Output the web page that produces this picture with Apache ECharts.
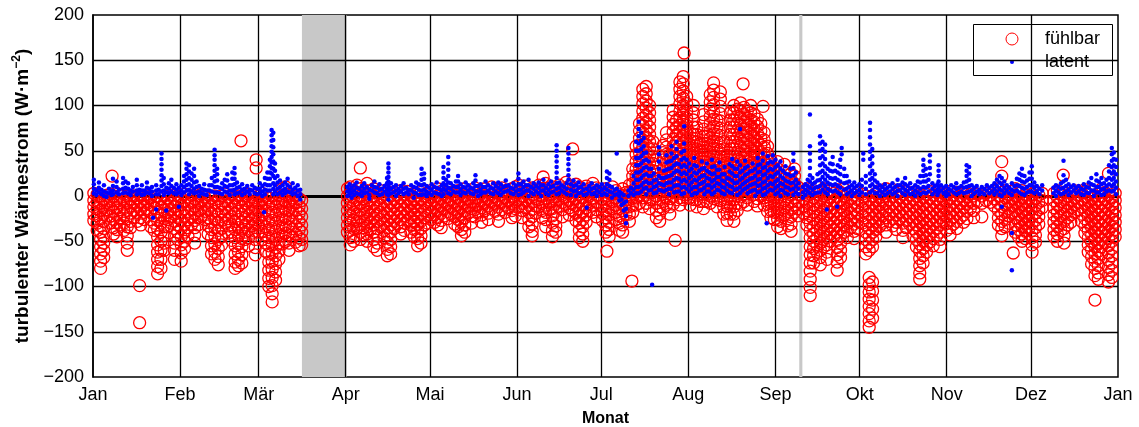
<!DOCTYPE html>
<html>
<head>
<meta charset="utf-8">
<script src="https://cdn.jsdelivr.net/npm/echarts@6/dist/echarts.min.js"></script>
<style>
html, body { margin: 0; padding: 0; background: #fff; }
#chart { width: 1139px; height: 427px; }
</style>
</head>
<body>
<div id="chart"></div>
<script>
// Month ticks (day of year at which each month starts)
const monthNames = ['Jan', 'Feb', 'Mär', 'Apr', 'Mai', 'Jun', 'Jul', 'Aug', 'Sep', 'Okt', 'Nov', 'Dez', 'Jan'];
const monthStartDays = [0, 31, 59, 90, 120, 151, 181, 212, 243, 273, 304, 334, 365];
const yTicks = [-200, -150, -100, -50, 0, 50, 100, 150, 200];
// Periods without measurements [fromDay, toDay]
const dataGaps = [[74.4, 90.3], [251.5, 252.6]];

// Sensible heat flux (W m-2). Each row: [day of year, value, value, ...]
const fuehlbarJan = [
  [0.3, 3, -5, -12, -20, -27], [1.5, 2, -6, -14, -22, -30, -38],
  [2.7, 0, -8, -16, -25, -33, -40, -48, -56, -64, -72, -80],
  [3.8, -4, -12, -20, -28, -36, -45, -52, -60, -68], [5.0, 1, -7, -15, -22],
  [6.2, 2, -6, -14, -22, -30], [6.8, 22], [7.3, 0, -9, -17, -26, -35, -42],
  [8.5, 3, -5, -13, -21, -29, -37, -45], [9.7, 1, -7, -15, -24, -32],
  [11.0, 2, -6, -14, -22, -30, -38], [12.2, 0, -8, -16, -25, -34, -44, -52, -60],
  [13.4, -3, -11, -19, -28, -35], [14.6, 0, -8, -16, -24], [15.8, -2, -10, -18, -28],
  [16.6, -99, -140], [17.0, 0, -7, -15, -24, -32], [18.2, -3, -10, -18, -26],
  [19.4, 0, -8, -16], [20.6, -2, -10, -18, -26, -34], [21.8, -5, -13, -22, -30, -38],
  [23.0, 0, -9, -18, -27, -36, -45, -54, -62, -70, -78, -86],
  [24.2, -3, -12, -21, -30, -40, -50, -60, -70, -80],
  [25.4, 0, -8, -16, -25, -34, -44, -52, -60], [26.6, -2, -10, -18, -26, -34],
  [27.8, 1, -7, -15, -23, -30], [29.0, -4, -12, -20, -28, -36, -44, -52, -60, -70]
];
const fuehlbarFeb = [
  [30.2, 0, -8, -16, -24, -32, -40, -48], [31.4, -2, -10, -18, -27, -36, -45, -54, -63, -72],
  [32.6, 2, -6, -14, -22, -31, -40, -50, -58], [33.8, -1, -9, -17, -26, -35, -44],
  [35.0, 1, -7, -15, -24, -32], [36.2, -3, -11, -19, -27, -35, -43, -52],
  [37.4, 0, -8, -16, -24, -32], [38.6, 2, -6, -14, -22], [39.8, -1, -9, -17, -26],
  [41.0, 1, -7, -15, -24, -33, -42], [42.2, -2, -10, -19, -28, -37, -46, -55, -64],
  [43.4, 0, -8, -17, -26, -35, -44, -53, -62, -70],
  [44.6, -3, -11, -20, -29, -38, -48, -58, -67, -76],
  [45.8, 0, -9, -18, -27, -36, -45, -54], [47.0, 2, -6, -14, -22, -30],
  [48.2, -1, -9, -17, -25, -33, -41], [49.4, 1, -7, -15, -23, -32, -40, -49],
  [50.6, -2, -10, -19, -28, -37, -46, -55, -64, -73, -80],
  [51.8, 0, -8, -17, -26, -35, -44, -53, -62, -70, -77], [52.7, 61],
  [53.0, -3, -11, -20, -29, -38, -47, -56, -65, -74],
  [54.2, 0, -8, -16, -24, -32, -40, -48], [55.4, 2, -6, -14, -22, -30, -38, -46, -55],
  [56.6, -1, -9, -17, -25, -33, -41], [57.8, 1, -7, -15, -23, -31, -39, -48, -57, -65],
  [58.1, 40, 31]
];
const fuehlbarMaer = [
  [59.0, 0, -8, -16, -24, -32, -40], [60.2, 3, -5, -13, -21, -30, -39, -48],
  [61.4, 0, -8, -16, -25, -34, -43, -52, -61],
  [62.6, -2, -10, -19, -28, -37, -46, -55, -64, -73, -82, -91, -100],
  [63.8, 0, -9, -18, -27, -36, -45, -54, -63, -72, -81, -90, -99, -108, -117],
  [65.0, -3, -12, -21, -30, -39, -48, -57, -66, -75, -84, -93],
  [66.2, 1, -7, -16, -25, -34, -43, -52, -61, -70],
  [67.4, 8, 0, -8, -17, -26, -35, -44, -53], [68.6, 10, 2, -6, -14, -23, -32, -41, -50],
  [69.8, 0, -8, -16, -25, -34, -43, -52, -60], [71.0, -2, -10, -18, -27, -36, -45],
  [72.2, 0, -8, -16, -24, -33, -42, -51], [73.4, -3, -11, -19, -28, -37, -46, -55],
  [74.3, -5, -14, -23, -32, -40, -48, -54]
];
const fuehlbarApr = [
  [90.6, 8, 0, -8, -16, -24, -32, -40], [91.6, 10, 2, -6, -14, -22, -30, -38, -46, -54],
  [92.8, 6, -2, -10, -18, -27, -36, -45, -50], [94.0, 12, 4, -4, -12, -20, -28, -36],
  [95.2, 31, 8, 0, -8, -16, -24, -32, -40, -48], [96.4, 5, -3, -11, -19, -27, -35, -43],
  [97.6, 14, 6, -2, -10, -18, -26, -34, -42, -50], [98.8, 3, -5, -13, -21, -29, -37],
  [100.0, 8, 0, -8, -16, -24, -32, -40, -48, -56],
  [101.2, 4, -4, -12, -20, -28, -36, -44, -52, -60], [102.4, 6, -2, -10, -18, -26, -34],
  [103.6, 2, -6, -14, -22, -30, -38, -46],
  [104.8, 5, -3, -11, -19, -27, -35, -43, -51, -59, -66],
  [106.0, 0, -8, -16, -24, -32, -40, -48, -56, -64], [107.2, 4, -4, -12, -20, -28, -36],
  [108.4, 1, -7, -15, -23, -31], [109.6, 6, -2, -10, -18, -26, -34, -42],
  [110.8, 2, -6, -14, -22, -30, -38], [112.0, 5, -3, -11, -19, -27],
  [113.2, 0, -8, -16, -24, -32, -40], [114.4, 3, -5, -13, -21, -29, -37, -45],
  [115.6, 1, -7, -15, -23, -31, -39, -47, -55], [116.8, 4, -4, -12, -20, -28, -36, -44, -52],
  [118.0, 0, -8, -16, -24, -32], [119.2, 2, -6, -14, -22, -30]
];
const fuehlbarMai = [
  [120.4, 6, -2, -10, -18, -26], [121.6, 3, -5, -13, -21, -29],
  [122.8, 8, 0, -8, -16, -24, -32], [124.0, 5, -3, -11, -19, -27, -35],
  [125.2, 2, -6, -14, -22], [126.4, 7, -1, -9, -17, -25], [127.6, 4, -4, -12, -20],
  [128.8, 1, -7, -15, -23, -31], [130.0, 6, -2, -10, -18, -26, -34],
  [131.2, 3, -5, -13, -21, -29, -37, -44], [132.4, 8, 0, -8, -16, -24, -32, -40],
  [133.6, 5, -3, -11, -19], [134.8, 2, -6, -14, -22, -30], [136.0, 9, 1, -7, -15, -23],
  [137.2, 6, -2, -10, -18], [138.4, 3, -5, -13, -21, -29], [139.6, 8, 0, -8, -16],
  [140.8, 5, -3, -11, -19, -26], [142.0, 10, 2, -6, -14], [143.2, 7, -1, -9, -17],
  [144.4, 4, -4, -12, -20, -28], [145.6, 9, 1, -7, -15], [146.8, 6, -2, -10, -18],
  [148.0, 3, -5, -13], [149.2, 8, 0, -8, -16, -24]
];
const fuehlbarJun = [
  [150.4, 10, 2, -6, -14, -22], [151.6, 12, 4, -4, -12], [152.8, 8, 0, -8, -16, -24],
  [154.0, 11, 3, -5, -13], [155.2, 6, -2, -10, -18, -26, -34],
  [156.4, 9, 1, -7, -15, -23, -31, -39, -44], [157.6, 5, -3, -11, -19],
  [158.8, 12, 4, -4, -12], [160.0, 8, 0, -8, -16, -24], [160.3, 21],
  [161.2, 14, 6, -2, -10, -18, -26, -34], [162.4, 9, 1, -7, -15],
  [163.6, 10, 2, -6, -14, -22, -30, -38, -45], [164.8, 7, -1, -9, -17, -25, -33, -40],
  [166.0, 12, 4, -4, -12], [167.2, 9, 1, -7, -15, -23], [168.4, 15, 7, -1, -9],
  [169.6, 11, 3, -5, -13, -21], [170.8, 52, 8, 0, -8, -16], [172.0, 13, 5, -3, -11, -19, -27],
  [173.2, 10, 2, -6, -14, -22, -30, -38, -46], [174.4, 6, -2, -10, -18, -26, -34, -42, -50],
  [175.6, 11, 3, -5, -13, -21, -29], [176.8, 8, 0, -8, -16], [178.0, 14, 6, -2, -10, -18],
  [179.2, 9, 1, -7, -15, -23]
];
const fuehlbarJul = [
  [181.4, 5, -3, -11, -19, -27], [182.6, 8, 0, -8, -16, -24, -32, -40], [183.0, -61],
  [183.8, 3, -5, -13, -21, -29, -37, -45], [185.0, 10, 2, -6, -14],
  [186.2, 6, -2, -10, -18, -26], [187.4, 2, -6, -14, -22, -30, -38],
  [188.6, 8, 0, -8, -16, -24, -32, -40], [189.8, 4, -4, -12, -20],
  [191.0, 12, 4, -4, -12, -20, -28], [191.9, -94], [192.2, 30, 22, 14, 6, -2, -10, -18],
  [193.4, 55, 46, 38, 30, 22, 14, 6, -2, -10],
  [194.6, 80, 72, 64, 56, 48, 40, 32, 24, 16, 8, 0, -8],
  [195.8, 118, 110, 102, 94, 86, 78, 70, 62, 54, 46, 38, 30, 22, 14, 6, -2, -12],
  [197.0, 121, 113, 105, 97, 89, 81, 73, 65, 57, 49, 41, 33, 25, 17, 9, 1, -8],
  [198.2, 100, 92, 84, 76, 68, 60, 52, 44, 36, 28, 20, 12, 4, -4, -14],
  [199.4, 60, 52, 44, 36, 28, 20, 12, 4, -4], [200.6, 40, 32, 24, 16, 8, 0, -8, -16, -24],
  [201.8, 20, 12, 4, -4, -12, -20, -28], [203.0, 56, 48, 40, 30, 20, 10, 2, -6, -14],
  [204.2, 70, 62, 54, 46, 38, 30, 22, 14, 6, -2, -10],
  [205.4, 45, 37, 29, 21, 13, 5, -3, -12, -20],
  [206.6, 95, 87, 79, 71, 63, 55, 47, 39, 31, 23, 15, 7, -1, -9], [207.3, -49],
  [207.8, 84, 76, 68, 60, 52, 44, 36, 28, 20, 12, 4, -4],
  [209.0, 126, 118, 110, 102, 94, 86, 78, 70, 62, 54, 46, 38, 30, 22, 14, 6, -2, -10],
  [210.2, 132, 124, 116, 108, 100, 92, 84, 76, 68, 60, 52, 44, 36, 28, 20, 12, 4, -4],
  [210.5, 158],
  [211.4, 110, 102, 94, 86, 78, 70, 62, 54, 46, 38, 30, 22, 14, 6, -2]
];
const fuehlbarAug = [
  [212.6, 70, 62, 54, 46, 38, 30, 22, 14, 6, -2, -10],
  [213.8, 100, 92, 84, 76, 68, 60, 52, 44, 36, 28, 20, 12, 4, -4],
  [215.0, 76, 68, 60, 52, 44, 36, 28, 20, 12, 4, -4, -12],
  [216.2, 58, 50, 42, 34, 26, 18, 10, 2, -6],
  [217.4, 90, 82, 74, 66, 58, 50, 42, 34, 26, 18, 10, 2, -6, -14],
  [218.6, 66, 58, 50, 42, 34, 26, 18, 10, 2, -6],
  [219.8, 112, 104, 96, 88, 80, 72, 64, 56, 48, 40, 32, 24, 16, 8, 0, -8],
  [221.0, 125, 117, 109, 101, 93, 85, 77, 69, 61, 53, 45, 37, 29, 21, 13, 5, -3],
  [222.2, 84, 76, 68, 60, 52, 44, 36, 28, 20, 12, 4, -4, -12],
  [223.4, 115, 107, 99, 91, 83, 75, 67, 59, 51, 43, 35, 27, 19, 11, 3, -5],
  [224.6, 60, 52, 44, 36, 28, 20, 12, 4, -4, -12, -20],
  [225.8, 45, 37, 29, 21, 13, 5, -3, -11, -19, -27],
  [227.0, 92, 84, 76, 68, 60, 52, 44, 36, 28, 20, 12, 4, -4, -12, -20],
  [228.2, 100, 92, 84, 76, 68, 60, 52, 44, 36, 28, 20, 12, 4, -4, -12, -20, -28],
  [229.4, 96, 88, 80, 72, 64, 56, 48, 40, 32, 24, 16, 8, 0, -8, -16],
  [230.6, 103, 95, 87, 79, 71, 63, 55, 47, 39, 31, 23, 15, 7, -1, -9], [231.5, 124],
  [231.8, 98, 90, 82, 74, 66, 58, 50, 42, 34, 26, 18, 10, 2, -6],
  [233.0, 94, 86, 78, 70, 62, 54, 46, 38, 30, 22, 14, 6, -2, -10],
  [234.2, 100, 92, 84, 76, 68, 60, 52, 44, 36, 28, 20, 12, 4],
  [235.4, 90, 82, 74, 66, 58, 50, 42, 34, 26, 18, 10, 2, -6],
  [236.6, 85, 77, 69, 61, 53, 45, 37, 29, 21, 13, 5, -3, -11],
  [237.8, 80, 72, 64, 56, 48, 40, 32, 24, 16, 8, 0], [238.6, 99],
  [239.0, 70, 62, 54, 46, 38, 30, 22, 14, 6, -2, -10],
  [240.2, 55, 47, 39, 31, 23, 15, 7, -1, -9, -17],
  [241.4, 40, 32, 24, 16, 8, 0, -8, -16, -24]
];
const fuehlbarSep = [
  [242.6, 30, 22, 14, 6, -2, -10, -18, -26], [243.8, 38, 30, 22, 14, 6, -2, -10, -18, -26, -34],
  [245.0, 20, 12, 4, -4, -12, -20, -28, -36], [246.2, 35, 27, 19, 11, 3, -5, -13, -21],
  [247.4, 15, 7, -1, -9, -17, -25, -33], [248.6, 25, 17, 9, 1, -7, -15, -23, -31, -39],
  [249.8, 30, 22, 14, 6, -2, -10, -18], [251.0, 10, 2, -6, -14, -22],
  [253.0, 5, -3, -11, -19], [254.2, 8, 0, -8, -16, -24, -32],
  [255.4, 2, -6, -14, -22, -30, -38, -46, -56, -65, -74, -83, -92, -101, -110],
  [256.6, 6, -2, -10, -18, -26, -34, -42, -50, -58, -66, -74],
  [257.8, 10, 2, -6, -14, -22, -30, -38, -46, -54, -62],
  [259.0, 4, -4, -12, -20, -28, -36, -44, -52, -60, -68, -76],
  [260.2, 8, 0, -8, -16, -24, -32, -40, -48, -56],
  [261.4, 2, -6, -14, -22, -30, -38, -46, -54, -62, -70],
  [262.6, 6, -2, -10, -18, -26, -34, -42, -50], [263.8, 3, -5, -13, -21, -29, -37, -45],
  [265.0, 7, -1, -9, -17, -25, -33, -41, -49, -57, -65, -73, -82],
  [266.2, 4, -4, -12, -20, -28, -36, -44, -52, -60, -68],
  [267.4, 8, 0, -8, -16, -24, -32, -40], [268.6, 2, -6, -14, -22, -30, -38, -46],
  [269.8, 5, -3, -11, -19, -27, -35], [271.0, 1, -7, -15, -23, -31, -39, -47],
  [272.2, 4, -4, -12, -20, -28, -36]
];
const fuehlbarOkt = [
  [274.0, 2, -6, -14, -22, -30], [275.2, 0, -8, -16, -24, -32, -40, -48, -56, -64],
  [276.4, -4, -12, -20, -28, -36, -44, -52, -60, -90, -98, -106, -114, -122, -130, -138, -145],
  [277.6, 0, -8, -16, -24, -32, -40, -48, -56, -95, -105, -115, -125, -135],
  [278.8, 3, -5, -13, -21, -29, -37, -45], [280.0, 6, -2, -10, -18, -26, -34],
  [281.2, 2, -6, -14, -22, -30], [282.4, 8, 0, -8, -16, -24, -32, -40],
  [283.6, 4, -4, -12, -20, -28], [284.8, 7, -1, -9, -17, -25, -33],
  [286.0, 3, -5, -13, -21, -29, -37], [287.2, 6, -2, -10, -18, -26],
  [288.4, 2, -6, -14, -22, -30, -38, -46], [289.6, 5, -3, -11, -19, -27, -35],
  [290.8, 1, -7, -15, -23, -31], [292.0, 4, -4, -12, -20, -28, -36, -44],
  [293.2, 0, -8, -16, -24, -32, -40, -48, -56],
  [294.4, 3, -5, -13, -21, -29, -37, -45, -53, -61, -69, -77, -85, -92],
  [295.6, -2, -10, -18, -26, -34, -42, -50, -58, -66, -74],
  [296.8, 2, -6, -14, -22, -30, -38, -46, -54, -62], [298.0, 5, -3, -11, -19, -27, -35, -43, -51],
  [299.2, 1, -7, -15, -23, -31, -39, -47, -55], [300.4, 4, -4, -12, -20, -28, -36, -44],
  [301.6, 0, -8, -16, -24, -32, -40, -48, -56], [302.8, 3, -5, -13, -21, -29]
];
const fuehlbarNov = [
  [304.0, 2, -6, -14, -22, -30, -38], [305.2, 5, -3, -11, -19, -27, -35, -43],
  [306.4, 1, -7, -15, -23, -31], [307.6, 4, -4, -12, -20, -28, -36],
  [308.8, 0, -8, -16, -24], [310.0, 3, -5, -13, -21, -29], [311.2, -1, -9, -17, -25],
  [312.4, 2, -6, -14], [313.6, 0, -8, -16, -24], [315.0, 2, -6], [316.5, 0, -8, -23],
  [318.0, 3, -5], [319.5, 1, -7], [321.0, 5, -3, -11], [322.4, 8, 0, -8, -16, -24, -32],
  [323.6, 38, 22, 4, -4, -12, -20, -28, -36, -44], [324.8, 6, -2, -10, -18, -26, -34],
  [326.0, 2, -6, -14, -22, -30], [327.2, 5, -3, -11, -19], [327.7, -63],
  [328.4, 8, 0, -8, -16, -24, -32, -40], [329.6, 3, -5, -13, -21, -29, -37, -45],
  [330.8, 6, -2, -10, -18, -26, -34, -42, -50], [332.0, 1, -7, -15, -23, -31, -39, -47],
  [333.2, 4, -4, -12, -20, -28, -36]
];
const fuehlbarDez = [
  [334.4, 2, -6, -14, -22, -30, -38, -46, -54, -62],
  [335.6, 5, -3, -11, -19, -27, -35, -43, -51], [336.8, 1, -7, -15, -23, -31],
  [338.0, 3, -5, -13], [342.2, 3, -5, -13, -21, -29, -37, -45],
  [343.4, 6, -2, -10, -18, -26, -34, -42, -50], [344.6, 2, -6, -14, -22, -30, -38],
  [345.5, 23], [345.8, 4, -4, -12, -20, -28, -36, -44, -52], [347.0, 0, -8, -16, -24, -32],
  [348.2, 3, -5, -13, -21, -29], [349.4, 6, -2, -10, -18], [350.6, 1, -7, -15],
  [352.0, 4, -4, -12, -20, -28], [353.2, 7, -1, -9, -17, -25, -33, -41],
  [354.4, 2, -6, -14, -22, -30, -38, -46, -54, -62],
  [355.6, 5, -3, -11, -19, -27, -35, -43, -51, -59, -67, -75],
  [356.8, 0, -8, -16, -24, -32, -40, -48, -56, -64, -72, -80, -88, -115],
  [358.0, 3, -5, -13, -21, -29, -37, -45, -53, -61, -69, -77, -85, -92],
  [359.2, 8, 0, -8, -16, -24, -32, -40, -48, -56, -64],
  [360.4, 4, -4, -12, -20, -28, -36, -44, -52],
  [361.6, 25, 1, -7, -15, -23, -31, -39, -47, -55, -63, -71, -79, -87, -95],
  [362.8, 6, -2, -10, -18, -26, -34, -42, -50, -58, -66, -74, -82, -90],
  [364.0, 3, -5, -13, -21, -29, -37, -45]
];

// Latent heat flux (W m-2). Each row: [day of year, value, value, ...]
const latentJan = [
  [0.3, 18, 13, 8, 3], [1.2, 6, 1], [2.1, 15, 9, 4], [3.0, 7, 2], [3.9, 12, 5, 0],
  [4.8, 4, -1], [5.7, 8, 3], [6.6, 5, 1], [7.1, 19, 11, 6, 2], [8.4, 16, 10, 4],
  [9.3, 7, 2], [10.7, 20, 14, 8, 3], [11.6, 16, 9, 4], [12.5, 14, 8, 3], [13.4, 6, 1],
  [14.2, 10, 5], [15.6, 18, 12, 6, 2], [16.5, 7, 3], [17.4, 12, 6, 1], [18.3, 6, 2],
  [19.2, 15, 9, 4], [20.1, 8, 3], [21.0, 10, 5, 0], [21.4, -24], [22.5, 12, 6, 2, -15],
  [23.4, 7, 2], [24.4, 47, 41, 35, 29, 23, 17, 11, 5], [25.2, 20, 13, 6, 1],
  [26.1, 9, 4, -16], [27.0, 14, 8, 3], [27.9, 18, 11, 5], [28.8, 9, 3], [29.7, 13, 7, 2]
];
const latentFeb = [
  [30.6, 9, 4, -12], [31.5, 12, 6, 1], [32.4, 22, 16, 10, 4], [33.3, 36, 30, 24, 18, 12, 6],
  [34.2, 34, 27, 20, 13, 7, 2], [35.1, 25, 18, 11, 5], [36.0, 30, 22, 15, 8, 3],
  [36.9, 16, 10, 4], [37.8, 11, 5, 0], [38.7, 8, 3], [39.6, 13, 7, 2], [40.5, 6, 1],
  [41.4, 12, 6], [42.3, 20, 12, 5], [43.3, 51, 45, 40, 34, 28, 22, 16, 10, 4],
  [44.2, 30, 24, 17, 10, 4], [45.1, 9, 3], [46.0, 14, 8, 2], [46.9, 18, 11, 5],
  [47.8, 24, 17, 10, 4], [48.7, 12, 6, 1], [49.6, 26, 19, 12, 6], [50.4, 31, 25, 19, 13, 7, 2],
  [51.3, 15, 9, 3], [52.2, 10, 4], [53.1, 13, 7, 1], [54.0, 8, 3], [54.9, 11, 5],
  [55.8, 7, 2], [56.7, 12, 6], [57.6, 9, 3]
];
const latentMaer = [
  [58.5, 8, 2], [59.4, 14, 8, 3], [60.3, 11, 5, 0], [60.9, -18], [61.2, 20, 13, 7, 2],
  [62.1, 26, 19, 12, 6], [63.0, 40, 33, 26, 19, 12, 6], [63.6, 73, 67, 61, 55, 49, 43, 37, 31, 25],
  [64.2, 70, 62, 54, 46, 38, 30, 22, 14, 8, 2], [64.8, 36, 28, 20, 12, 5],
  [65.7, 22, 15, 8, 2], [66.6, 17, 10, 4], [67.5, 12, 6, 1], [68.4, 15, 8, 3],
  [69.3, 19, 12, 5], [70.2, 10, 4], [71.1, 14, 7, 2], [72.0, 9, 3], [72.9, 12, 6, 0],
  [73.8, 7, 2, -4]
];
const latentApr = [
  [90.6, 10, 5, 0], [91.4, 13, 7, 2], [92.1, 9, 4, -2], [93.0, 12, 6, 1], [93.9, 15, 9, 3],
  [94.8, 8, 2], [95.7, 11, 5, 0], [96.6, 14, 8, 3], [97.5, 10, 4], [98.4, 7, 1, -3],
  [99.3, 12, 6], [100.2, 16, 10, 4], [101.1, 9, 3], [102.0, 13, 7, 1], [102.9, 8, 2],
  [103.8, 11, 5], [104.7, 20, 14, 8, 2], [105.2, 36, 31, 26, 21, 16, 11, 6, 1, -4],
  [106.1, 14, 8, 3], [107.0, 10, 4], [107.9, 12, 6, 0], [108.8, 8, 3], [109.7, 11, 5],
  [110.6, 14, 8, 2], [111.5, 9, 4], [112.4, 7, 2], [113.3, 12, 6], [114.2, 10, 4, -2],
  [115.1, 15, 9, 3], [116.0, 13, 7, 1], [117.0, 30, 24, 18, 12, 6, 1],
  [117.9, 25, 19, 13, 7, 2], [118.8, 11, 5, 0]
];
const latentMai = [
  [119.7, 9, 3], [120.6, 13, 7, 1], [121.5, 10, 4], [122.4, 15, 9, 3], [123.3, 8, 2],
  [124.2, 12, 6, 0], [124.8, 32, 26, 20, 14, 8, 2], [125.7, 18, 12, 6],
  [126.5, 43, 36, 29, 22, 15, 9, 3], [127.4, 14, 8, 2], [128.3, 11, 5], [129.2, 16, 10, 4],
  [130.0, 22, 16, 10, 4], [130.9, 13, 7, 1], [131.8, 10, 4], [132.7, 15, 9, 3],
  [133.6, 12, 6], [134.5, 9, 3], [135.4, 14, 8, 2], [136.2, 23, 17, 11, 5],
  [137.1, 11, 5, 0], [138.0, 13, 7, 2], [138.9, 10, 4], [139.8, 16, 10, 4], [140.7, 12, 6],
  [141.6, 9, 3], [142.5, 14, 8, 2], [143.4, 11, 5], [144.3, 15, 9, 3], [145.2, 13, 7, 1],
  [146.1, 10, 4], [147.0, 17, 11, 5], [147.9, 12, 6], [148.8, 9, 3], [149.7, 14, 8, 2]
];
const latentJun = [
  [150.6, 11, 5], [151.5, 25, 19, 13, 7, 1], [152.4, 13, 7, 2], [153.3, 16, 10, 4],
  [154.2, 12, 6], [155.1, 18, 12, 6, 0], [156.0, 10, 4], [156.9, 14, 8, 2], [157.8, 11, 5],
  [158.7, 15, 9, 3], [159.6, 12, 6, 0], [160.4, 18, 12, 6], [161.3, 9, 3], [162.2, 13, 7, 1],
  [163.1, 16, 10, 4], [164.0, 11, 5], [165.1, 56, 50, 44, 38, 32, 26, 20, 14, 8, 2],
  [166.0, 15, 9, 3], [166.9, 12, 6], [167.8, 10, 4], [168.7, 14, 8, 2],
  [169.3, 53, 47, 41, 35, 29, 23, 18], [170.2, 13, 7, 1], [171.1, 17, 11, 5],
  [172.0, 12, 6, 0], [172.9, 15, 9, 3], [173.8, 10, 4], [174.7, 13, 7, 1],
  [175.8, 8, 2, -13], [176.7, 11, 5], [177.6, 14, 8, 2], [178.5, 9, 3], [179.4, 12, 6, 0]
];
const latentJul = [
  [180.3, 10, 4], [181.2, 13, 7, 1], [182.1, 9, 3], [183.0, 27, 20, 13, 7, 1],
  [183.9, 25, 18, 11, 5], [184.8, 10, 4, -2], [185.7, 7, 1], [186.5, 47, 8, 2],
  [187.4, 5, 0, -5], [188.2, 3, -4, -10], [189.0, 1, -8, -16], [189.8, -6, -14, -22, -30],
  [190.7, 6, 0], [191.6, 9, 3], [192.5, 22, 14, 7, 1], [193.4, 60, 50, 42, 34, 26, 18, 10, 3],
  [194.3, 82, 74, 66, 58, 50, 42, 34, 26, 18, 10, 3], [195.2, 70, 61, 52, 44, 36, 28, 20, 12, 5],
  [196.1, 64, 55, 47, 39, 31, 23, 15, 8], [197.0, 48, 40, 32, 24, 16, 9, 2],
  [197.9, 38, 30, 22, 14, 6], [198.8, 30, 22, 14, 7], [199.1, -98], [199.7, 25, 17, 10, 3],
  [200.6, 18, 11, 4], [201.5, 54, 46, 38, 30, 22, 14, 7], [202.4, 20, 13, 6],
  [203.3, 28, 20, 12, 5], [204.2, 45, 37, 29, 21, 14, 7], [205.1, 38, 30, 22, 15, 8, 2],
  [206.0, 55, 47, 39, 31, 23, 15, 8], [206.9, 42, 34, 26, 18, 11, 4],
  [207.8, 60, 52, 44, 36, 28, 20, 12, 5], [208.7, 35, 27, 19, 12, 5],
  [209.6, 48, 40, 32, 24, 16, 9, 2], [210.5, 77, 58, 50, 42, 34, 26, 18, 10, 3],
  [211.4, 40, 32, 24, 16, 8]
];
const latentAug = [
  [212.3, 36, 28, 20, 12, 5], [213.2, 30, 22, 15, 8, 1], [214.1, 42, 34, 26, 18, 10, 3],
  [215.0, 33, 25, 17, 10, 3], [215.9, 28, 20, 13, 6], [216.8, 38, 30, 22, 14, 7],
  [217.7, 31, 23, 16, 9, 2], [218.6, 36, 28, 20, 12, 5], [219.5, 26, 19, 12, 5],
  [220.4, 40, 32, 24, 16, 9, 2], [221.3, 33, 25, 18, 11, 4], [222.2, 29, 21, 14, 7],
  [223.1, 37, 29, 21, 13, 6], [224.0, 24, 17, 10, 3], [224.9, 32, 24, 16, 9, 2],
  [225.8, 20, 13, 6], [226.7, 35, 27, 19, 11, 4], [227.6, 41, 33, 25, 17, 10, 3],
  [228.5, 30, 22, 14, 7], [229.4, 38, 30, 22, 15, 8, 1], [230.4, 74, 34, 26, 18, 10, 3],
  [231.3, 28, 20, 13, 6], [232.2, 39, 31, 23, 15, 8], [233.1, 33, 25, 17, 10, 3],
  [234.0, 27, 19, 12, 5], [234.9, 36, 28, 20, 13, 6], [235.8, 30, 22, 14, 7, 0],
  [236.7, 42, 34, 26, 18, 11, 4], [237.6, 35, 27, 19, 12, 5], [238.5, 47, 39, 31, 23, 15, 8, 1],
  [239.4, 32, 24, 16, 9, 2], [239.9, -30], [240.3, 44, 36, 28, 20, 12, 5],
  [241.2, 38, 30, 22, 14, 7]
];
const latentSep = [
  [242.1, 45, 37, 29, 21, 13, 6], [243.0, 40, 32, 24, 16, 9, 2], [243.9, 34, 26, 18, 11, 4],
  [244.8, 38, 30, 22, 14, 7, 0], [245.7, 28, 20, 13, 6], [246.6, 33, 25, 17, 10, 3],
  [247.5, 24, 16, 9, 2], [248.4, 30, 22, 14, 7], [249.4, 47, 39, 31, 23, 15, 8, 1],
  [250.3, 26, 18, 11, 4], [251.2, 14, 8, 2], [252.8, 10, 4, -2], [253.7, 13, 7, 1],
  [254.5, 18, 11, 5], [255.3, 90, 55, 47, 39, 31, 23, 16, 9, 3], [256.2, 20, 13, 7, 1],
  [257.1, 15, 9, 3], [258.0, 24, 17, 10, 4], [258.9, 66, 58, 50, 42, 34, 26, 18, 11, 4],
  [259.8, 60, 52, 44, 36, 28, 21, 14, 7], [260.7, 57, 49, 41, 33, 25, 18, 11, 4],
  [261.3, -15], [261.6, 30, 22, 15, 8, 2], [262.5, 36, 28, 20, 13, 6],
  [263.4, 43, 35, 27, 19, 12, 5], [264.3, 28, 20, 13, 6], [265.0, -12],
  [265.2, 34, 26, 18, 11, 4], [266.1, 40, 32, 24, 16, 9, 2], [266.6, 53, 46],
  [267.5, 30, 22, 14, 7], [268.4, 22, 15, 8, 2], [269.3, 16, 10, 4], [270.2, 12, 6, 0],
  [271.1, 15, 9, 3], [272.0, 11, 5]
];
const latentOkt = [
  [272.9, 13, 7, 1], [273.8, 18, 11, 4], [274.3, 47, 40], [275.2, 22, 15, 8, 2],
  [276.7, 81, 73, 65, 57, 49, 41, 33, 25, 18, 11, 4], [277.5, 52, 44, 36, 28, 20, 13, 6],
  [278.4, 24, 17, 10, 3], [279.3, 15, 9, 3], [280.2, 12, 6, 0], [281.1, 10, 4],
  [282.0, 13, 7, 1], [282.9, 9, 3], [283.8, 11, 5], [284.7, 14, 8, 2], [285.6, 10, 4],
  [286.5, 18, 12, 6, 0], [287.4, 12, 6], [288.3, 15, 9, 3], [289.2, 20, 13, 7, 1],
  [290.1, 11, 5], [291.0, 14, 8, 2], [291.9, 9, 3], [292.8, 12, 6, 0], [293.7, 16, 10, 4],
  [294.6, 22, 15, 8, 2], [295.7, 40, 34, 28, 22, 16, 10, 4], [296.6, 30, 23, 16, 9, 3],
  [297.5, 18, 11, 5], [298.0, 45, 38, 31, 24], [298.9, 14, 8, 2], [299.8, 11, 5],
  [300.7, 13, 7, 1], [301.1, 34, 28, 22, 16, 10, 4], [302.0, 12, 6], [302.9, 9, 3]
];
const latentNov = [
  [303.8, 11, 5, 0], [304.7, 8, 2], [305.6, 12, 6], [306.5, 10, 4], [307.4, 14, 8, 2],
  [308.3, 9, 3], [309.2, 11, 5], [310.1, 15, 9, 3], [311.1, 34, 28, 22, 16, 10, 4],
  [312.0, 32, 25, 18, 11, 5], [312.9, 12, 6, 0], [313.8, 9, 3], [314.7, 11, 5],
  [315.6, 7, 2], [316.5, 10, 4], [317.4, 8, 2], [318.3, 12, 6], [319.2, 9, 3],
  [320.1, 11, 5], [321.0, 14, 8, 2], [321.9, 18, 11, 5], [322.8, 22, 15, 8, 1],
  [323.6, 20, 13, 6, 0, -12], [324.5, 16, 9, 3], [325.4, 12, 6], [326.3, 9, 3],
  [327.2, 14, 7, 1, -41, -82], [328.1, 11, 5], [329.0, 19, 12, 6], [329.9, 25, 18, 11, 4],
  [330.8, 30, 23, 16, 9, 2], [331.7, 22, 15, 8, 1], [332.6, 17, 10, 4], [333.5, 26, 19, 12, 5]
];
const latentDez = [
  [334.3, 33, 26, 19, 12, 5], [335.2, 15, 9, 3], [336.1, 11, 5], [337.0, 8, 2],
  [338.0, 12, 6], [342.0, 9, 3], [342.9, 12, 6, 0], [343.8, 10, 4], [344.7, 14, 8, 2],
  [345.6, 39, 23, 16, 9, 3], [346.5, 18, 11, 5], [347.4, 13, 7, 1], [348.3, 10, 4],
  [349.2, 12, 6], [350.1, 9, 3], [351.0, 11, 5], [351.9, 8, 2], [352.8, 13, 7, 1],
  [353.7, 10, 4], [354.6, 15, 9, 3], [355.5, 20, 13, 6], [356.4, 12, 6, 0],
  [357.3, 24, 17, 10, 4], [358.2, 16, 10, 4], [359.1, 20, 13, 7, 1], [360.0, 14, 8, 2],
  [360.9, 18, 11, 5], [361.8, 34, 27, 20, 13, 6], [362.8, 53, 46, 39, 32, 25, 18, 11, 5],
  [363.5, 48, 41, 34, 27, 20, 13, 6], [364.3, 40, 32, 24, 16, 9, 2]
];

// Turn [day, v1, v2, ...] rows into [day, value] points
function toPoints(...months) {
  const pts = [];
  months.forEach(rows => rows.forEach(row => {
    for (let i = 1; i < row.length; i++) pts.push([row[0], row[i]]);
  }));
  return pts;
}

const fuehlbarPoints = toPoints(fuehlbarJan, fuehlbarFeb, fuehlbarMaer, fuehlbarApr, fuehlbarMai,
  fuehlbarJun, fuehlbarJul, fuehlbarAug, fuehlbarSep, fuehlbarOkt, fuehlbarNov, fuehlbarDez);
const latentPoints = toPoints(latentJan, latentFeb, latentMaer, latentApr, latentMai,
  latentJun, latentJul, latentAug, latentSep, latentOkt, latentNov, latentDez);

const FONT = '"Liberation Sans", Arial, Helvetica, sans-serif';
const chart = echarts.init(document.getElementById('chart'), null, { renderer: 'canvas' });

const gridLineStyle = { color: '#000', width: 1.3, type: 'solid' };
const refLines = monthStartDays.slice(1, -1).map(d => ({ xAxis: d, lineStyle: gridLineStyle }))
  .concat(yTicks.slice(1, -1).filter(v => v !== 0).map(v => ({ yAxis: v, lineStyle: gridLineStyle })))
  .concat([{ yAxis: 0, lineStyle: { color: '#000', width: 3, type: 'solid' } }]);

chart.setOption({
  animation: false,
  backgroundColor: '#fff',
  textStyle: { fontFamily: FONT },
  grid: {
    left: 93, right: 21, top: 15, bottom: 50,
    containLabel: false, outerBoundsMode: 'none',
    show: true, borderColor: '#000', borderWidth: 1.5, backgroundColor: '#fff'
  },
  xAxis: {
    type: 'value', min: 0, max: 365,
    axisLine: { show: true, lineStyle: { color: '#000', width: 1.5 } },
    axisTick: { show: false },
    splitLine: { show: false },
    axisLabel: {
      customValues: monthStartDays,
      formatter: v => monthNames[monthStartDays.indexOf(v)] || '',
      color: '#000', fontSize: 18, fontFamily: FONT, margin: 9
    },
    name: 'Monat', nameLocation: 'middle', nameGap: 34,
    nameTextStyle: { color: '#000', fontSize: 16, fontWeight: 'bold', fontFamily: FONT }
  },
  yAxis: {
    type: 'value', min: yTicks[0], max: yTicks[yTicks.length - 1], interval: 50,
    axisLine: { show: true, lineStyle: { color: '#000', width: 1.5 } },
    axisTick: { show: false },
    splitLine: { show: false },
    axisLabel: {
      formatter: v => String(v).replace('-', '\u2212'),
      color: '#000', fontSize: 18, fontFamily: FONT, margin: 9
    },
    name: '{t|turbulenter Wärmestrom (W·m}{s|\u22122}{t|)}',
    nameLocation: 'middle', nameGap: 58,
    nameTextStyle: {
      rich: {
        t: { fontSize: 19, fontWeight: 'bold', fontFamily: FONT, color: '#000', lineHeight: 24 },
        s: { fontSize: 12, fontWeight: 'bold', fontFamily: FONT, color: '#000', lineHeight: 11, verticalAlign: 'top' }
      }
    }
  },
  series: [
    {
      name: 'reference',
      type: 'scatter',
      data: [],
      silent: true,
      z: 1,
      markArea: {
        silent: true, z: 1,
        itemStyle: { color: '#c8c8c8' },
        data: dataGaps.map(g => [{ xAxis: g[0] }, { xAxis: g[1] }])
      },
      markLine: {
        silent: true, z: 2, symbol: ['none', 'none'],
        label: { show: false },
        data: refLines
      }
    },
    {
      name: 'fühlbar',
      type: 'scatter',
      z: 3,
      symbol: 'circle',
      symbolSize: 12,
      itemStyle: { color: 'rgba(255,255,255,0)', borderColor: '#ff0000', borderWidth: 1.3, opacity: 1 },
      data: fuehlbarPoints,
      progressive: 0
    },
    {
      name: 'latent',
      type: 'scatter',
      z: 4,
      symbol: 'circle',
      symbolSize: 4.5,
      itemStyle: { color: '#0000ff', opacity: 1 },
      data: latentPoints,
      progressive: 0
    }
  ],
  graphic: [
    {
      type: 'group', left: 973, top: 24, z: 100,
      children: [
        { type: 'rect', shape: { x: 0.5, y: 0.5, width: 139, height: 51 }, style: { fill: '#fff', stroke: '#000', lineWidth: 1 } },
        { type: 'circle', shape: { cx: 39, cy: 15, r: 6 }, style: { fill: 'none', stroke: '#ff0000', lineWidth: 1 } },
        { type: 'circle', shape: { cx: 39, cy: 38, r: 2 }, style: { fill: '#0000ff' } },
        { type: 'text', x: 72, y: 15, style: { text: 'fühlbar', fill: '#000', font: '18px ' + FONT, verticalAlign: 'middle' } },
        { type: 'text', x: 72, y: 38, style: { text: 'latent', fill: '#000', font: '18px ' + FONT, verticalAlign: 'middle' } }
      ]
    }
  ]
});
</script>
</body>
</html>
